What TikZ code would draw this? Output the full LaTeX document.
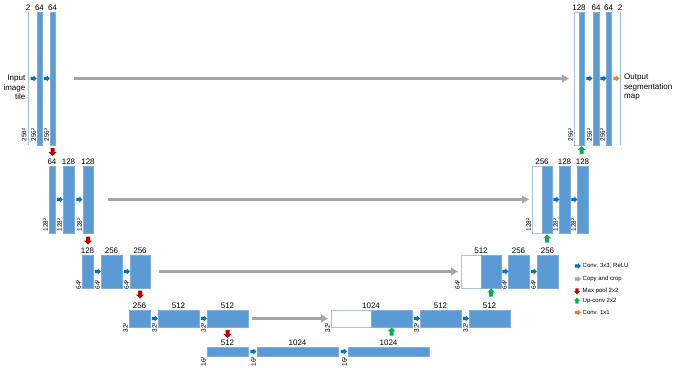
\documentclass[tikz,border=0pt]{standalone}
\usepackage{fontspec}
\setmainfont{Liberation Sans}
\usetikzlibrary{shapes.arrows,arrows.meta,calc}
\definecolor{boxfill}{HTML}{5B9BD5}
\definecolor{boxline}{HTML}{7FAEDD}
\definecolor{wline}{HTML}{A9C4DF}
\definecolor{thinl}{HTML}{9DC3E6}
\definecolor{cblue}{HTML}{0070C0}
\definecolor{cgray}{HTML}{A6A6A6}
\definecolor{cred}{HTML}{C00000}
\definecolor{cgreen}{HTML}{00B050}
\definecolor{corange}{HTML}{ED7D31}
\newcommand{\ublk}[6]{\node[#6, anchor=north west, minimum width={(#3-#2)*1pt}, minimum height={(#5-#4)*1pt}] (#1) at (#2,#4) {};}
\newcommand{\vlb}[4]{\node[vlab] (#1) at ($(#2.south west)+(0,#3)$) {#4};}
\tikzset{
  fbox/.style={draw=boxline, fill=boxfill, line width=0.6pt, inner sep=0pt, outer sep=0pt},
  wbox/.style={draw=wline, fill=white, line width=0.6pt, inner sep=0pt, outer sep=0pt},
  tbox/.style={draw=none, fill=thinl, inner sep=0pt, outer sep=0pt},
  toplab/.style={anchor=south, font=\fontsize{8}{9}\selectfont, inner sep=0.5pt, yshift=0.5pt},
  vlab/.style={rotate=90, anchor=south west, font=\fontsize{6.5}{7}\selectfont, inner sep=0.8pt},
  blk/.style={single arrow, inner sep=1.4pt, single arrow head extend=1.4pt, minimum height=6pt, single arrow head indent=0pt},
  convarr/.style={blk, fill=cblue},
  poolarr/.style={blk, fill=cred, inner sep=1.8pt, single arrow head extend=1.8pt, minimum height=8pt, shape border rotate=270},
  uparr/.style={blk, fill=cgreen, inner sep=1.8pt, single arrow head extend=1.8pt, minimum height=8pt, shape border rotate=90},
  onearr/.style={blk, fill=corange},
  copyarr/.style={draw=cgray, line width=2.5pt, -{Triangle[length=7pt,width=7.5pt]}},
  legtxt/.style={anchor=west, font=\fontsize{6}{7}\selectfont, inner sep=0.5pt},
  sidetxt/.style={font=\fontsize{8}{9.5}\selectfont, inner sep=0pt}
}
\begin{document}
\begin{tikzpicture}[x=1pt,y=-1pt]
\useasboundingbox (0,0) rectangle (676,367);
% ---------- level 1 ----------
\ublk{in}{27.5}{28.6}{12}{145}{tbox}
\ublk{b11}{37}{42}{12}{145}{fbox}
\ublk{b12}{50}{55}{12}{145}{fbox}
\ublk{w1}{574}{579}{12}{145}{wbox}
\ublk{r11}{579}{584}{12}{145}{fbox}
\ublk{r12}{593}{599}{12}{145}{fbox}
\ublk{r13}{606}{611}{12}{145}{fbox}
\ublk{out}{619.5}{620.6}{12}{145}{tbox}
% ---------- level 2 ----------
\ublk{b21}{49}{55}{166}{233}{fbox}
\ublk{b22}{63}{74}{166}{233}{fbox}
\ublk{b23}{83}{93}{166}{233}{fbox}
\ublk{w2}{532}{542}{166}{233}{wbox}
\ublk{r21}{542}{552}{166}{233}{fbox}
\ublk{r22}{559}{570}{166}{233}{fbox}
\ublk{r23}{577}{588}{166}{233}{fbox}
% ---------- level 3 ----------
\ublk{b31}{82}{93}{255}{288}{fbox}
\ublk{b32}{101}{122}{255}{288}{fbox}
\ublk{b33}{130}{150}{255}{288}{fbox}
\ublk{w3}{461}{481}{255}{288}{wbox}
\ublk{r31}{481}{501}{255}{288}{fbox}
\ublk{r32}{508}{529}{255}{288}{fbox}
\ublk{r33}{537}{558}{255}{288}{fbox}
% ---------- level 4 ----------
\ublk{b41}{129}{150}{310}{327}{fbox}
\ublk{b42}{158}{199}{310}{327}{fbox}
\ublk{b43}{207}{248}{310}{327}{fbox}
\ublk{w4}{331}{371}{310}{327}{wbox}
\ublk{r41}{371}{412}{310}{327}{fbox}
\ublk{r42}{420}{461}{310}{327}{fbox}
\ublk{r43}{469}{510}{310}{327}{fbox}
% ---------- level 5 ----------
\ublk{b51}{207}{248}{347}{356}{fbox}
\ublk{b52}{257}{338}{347}{356}{fbox}
\ublk{b53}{348}{429}{347}{356}{fbox}
% ---------- top labels ----------
\node[toplab] (tin) at (in.north) {2};
\node[toplab] (t11) at (b11.north) {64};
\node[toplab] (t12) at (b12.north) {64};
\node[toplab] (tw1) at (w1.north east) {128};
\node[toplab] (t12r) at (r12.north) {64};
\node[toplab] (t13r) at (r13.north) {64};
\node[toplab] (tout) at (out.north) {2};
\node[toplab] (t21) at (b21.north) {64};
\node[toplab] (t22) at (b22.north) {128};
\node[toplab] (t23) at (b23.north) {128};
\node[toplab] (tw2) at (w2.north east) {256};
\node[toplab] (t22r) at (r22.north) {128};
\node[toplab] (t23r) at (r23.north) {128};
\node[toplab] (t31) at (b31.north) {128};
\node[toplab] (t32) at (b32.north) {256};
\node[toplab] (t33) at (b33.north) {256};
\node[toplab] (tw3) at (w3.north east) {512};
\node[toplab] (t32r) at (r32.north) {256};
\node[toplab] (t33r) at (r33.north) {256};
\node[toplab] (t41) at (b41.north) {256};
\node[toplab] (t42) at (b42.north) {512};
\node[toplab] (t43) at (b43.north) {512};
\node[toplab] (tw4) at (w4.north east) {1024};
\node[toplab] (t42r) at (r42.north) {512};
\node[toplab] (t43r) at (r43.north) {512};
\node[toplab] (t51) at (b51.north) {512};
\node[toplab] (t52) at (b52.north) {1024};
\node[toplab] (t53) at (b53.north) {1024};
% ---------- vertical labels ----------
\vlb{vin}{in}{-2.5}{256²}
\vlb{v11}{b11}{-2.5}{256²}
\vlb{v12}{b12}{-2.5}{256²}
\vlb{vw1}{w1}{-2.5}{256²}
\vlb{v12r}{r12}{-2.5}{256²}
\vlb{v13r}{r13}{-2.5}{256²}
\vlb{v21}{b21}{-0.5}{128²}
\vlb{v22}{b22}{-0.5}{128²}
\vlb{v23}{b23}{-0.5}{128²}
\vlb{vw2}{w2}{-0.5}{128²}
\vlb{v22r}{r22}{-0.5}{128²}
\vlb{v23r}{r23}{-0.5}{128²}
\vlb{v31}{b31}{2.5}{64²}
\vlb{v32}{b32}{2.5}{64²}
\vlb{v33}{b33}{2.5}{64²}
\vlb{vw3}{w3}{2.5}{64²}
\vlb{v32r}{r32}{2.5}{64²}
\vlb{v33r}{r33}{2.5}{64²}
\vlb{v41}{b41}{6.5}{32²}
\vlb{v42}{b42}{6.5}{32²}
\vlb{v43}{b43}{6.5}{32²}
\vlb{vw4}{w4}{6.5}{32²}
\vlb{v42r}{r42}{6.5}{32²}
\vlb{v43r}{r43}{6.5}{32²}
\vlb{v51}{b51}{11.5}{16²}
\vlb{v52}{b52}{11.5}{16²}
\vlb{v53}{b53}{11.5}{16²}
% ---------- conv arrows ----------
\node[convarr] (c11) at (32.8,78.5) {};
\node[convarr] (c12) at (46,78.5) {};
\node[convarr] (c11r) at (588.5,78.5) {};
\node[convarr] (c12r) at (602.5,78.5) {};
\node[onearr] (o1) at (615.5,78.5) {};
\node[convarr] (c21) at (59,199.5) {};
\node[convarr] (c22) at (78.5,199.5) {};
\node[convarr] (c21r) at (555.5,199.5) {};
\node[convarr] (c22r) at (573.5,199.5) {};
\node[convarr] (c31) at (97,271.5) {};
\node[convarr] (c32) at (126,271.5) {};
\node[convarr] (c31r) at (504.5,271.5) {};
\node[convarr] (c32r) at (533,271.5) {};
\node[convarr] (c41) at (154,318.5) {};
\node[convarr] (c42) at (203,318.5) {};
\node[convarr] (c41r) at (416,318.5) {};
\node[convarr] (c42r) at (465,318.5) {};
\node[convarr] (c51) at (252.5,351.5) {};
\node[convarr] (c52) at (343,351.5) {};
% ---------- max pool ----------
\node[poolarr] (p1) at (52.5,151) {};
\node[poolarr] (p2) at (88,239.5) {};
\node[poolarr] (p3) at (140,293.5) {};
\node[poolarr] (p4) at (227.5,333) {};
% ---------- up-conv ----------
\node[uparr] (u1) at (581.5,151) {};
\node[uparr] (u2) at (547,239.5) {};
\node[uparr] (u3) at (491,293.5) {};
\node[uparr] (u4) at (391.5,332.5) {};
% ---------- copy and crop ----------
\coordinate (g1s) at (74,78.5);  \coordinate (g1e) at (569,78.5);
\coordinate (g2s) at (108,199.5); \coordinate (g2e) at (529,199.5);
\coordinate (g3s) at (159,271.5); \coordinate (g3e) at (458,271.5);
\coordinate (g4s) at (252,318.5); \coordinate (g4e) at (328,318.5);
\draw[copyarr] (g1s) -- (g1e);
\draw[copyarr] (g2s) -- (g2e);
\draw[copyarr] (g3s) -- (g3e);
\draw[copyarr] (g4s) -- (g4e);
% ---------- side texts ----------
\node[sidetxt, anchor=east, align=right] (intxt) at (25.5,87.5) {Input\\image\\tile};
\node[sidetxt, anchor=west, align=left] (outtxt) at (624,87.5) {Output\\segmentation\\map};
% ---------- legend ----------
\node[convarr] (l1) at (577,266) {};
\node[legtxt] (lt1) at (582,266) {Conv. 3x3, ReLU};
\node[blk, fill=cgray] (l2) at (577,279) {};
\node[legtxt] (lt2) at (582,279) {Copy and crop};
\node[blk, fill=cred, shape border rotate=270] (l3) at (577,290.5) {};
\node[legtxt] (lt3) at (582,290.5) {Max pool 2x2};
\node[blk, fill=cgreen, shape border rotate=90] (l4) at (577,301.5) {};
\node[legtxt] (lt4) at (582,301.5) {Up-conv 2x2};
\node[onearr] (l5) at (577,312.5) {};
\node[legtxt] (lt5) at (582,312.5) {Conv. 1x1};
\end{tikzpicture}
\end{document}
